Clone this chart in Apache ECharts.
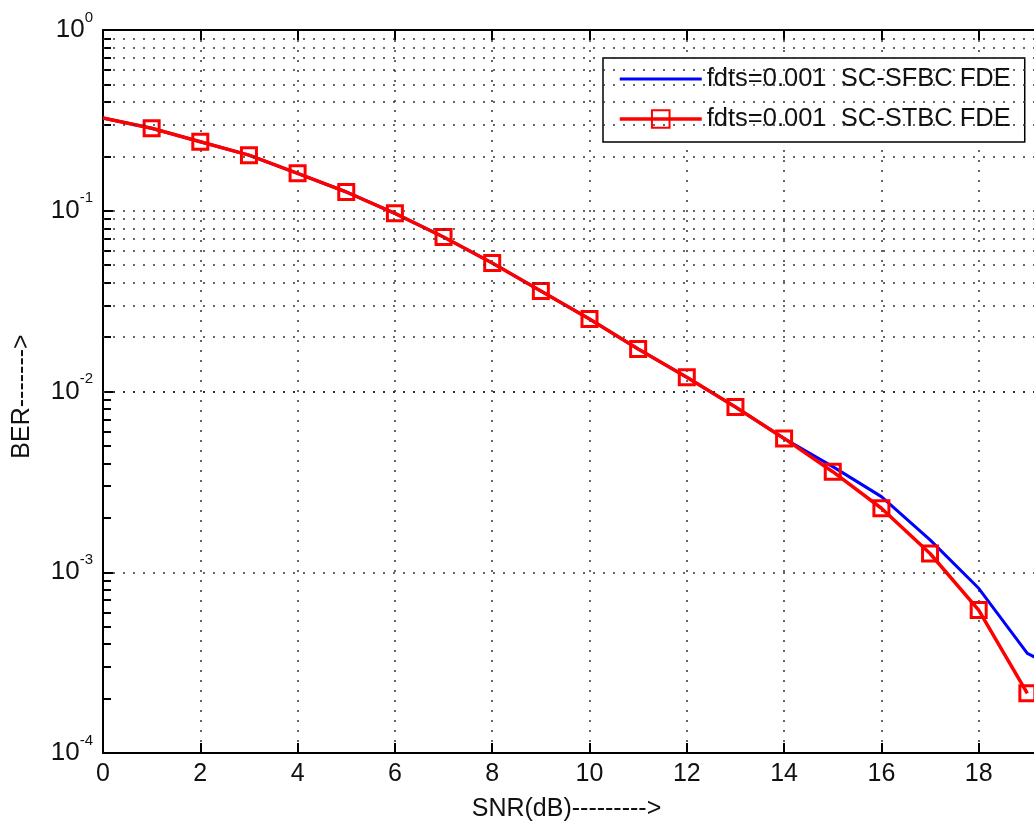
<!DOCTYPE html>
<html>
<head>
<meta charset="utf-8">
<script src="https://cdn.jsdelivr.net/npm/echarts@6/dist/echarts.min.js"></script>
<style>
html,body{margin:0;padding:0;background:#fff;}
#chart{width:1034px;height:827px;}
</style>
</head>
<body>
<div id="chart"></div>
<script>
// ---- data ----
const snr = [0,1,2,3,4,5,6,7,8,9,10,11,12,13,14,15,16,17,18,19,20];
const berSFBC = [0.326,0.286,0.241,0.203,0.161,0.127,0.0968,0.0716,0.0514,0.036,0.0252,0.0172,0.0120,0.0082,0.0055,0.00384,0.00262,0.00151,0.000815,0.000356,0.00026];
const berSTBC = [0.326,0.286,0.241,0.203,0.161,0.127,0.0968,0.0716,0.0514,0.036,0.0252,0.0172,0.0120,0.0082,0.0055,0.0036,0.00226,0.00127,0.000618,0.000214];
const seriesNames = ['fdts=0.001  SC-SFBC FDE','fdts=0.001  SC-STBC FDE'];
const xTicks = [0,2,4,6,8,10,12,14,16,18];
const yDecades = [-4,-3,-2,-1,0];
const minorMultipliers = [2,3,4,5,6,7,8,9];

const FONT = 'Liberation Sans, Arial, sans-serif';
const dotted = {type:[2,8], width:1.5, color:'#333'};

const minorVals = [];
yDecades.slice(0,-1).forEach(k => minorMultipliers.forEach(m => minorVals.push(m*Math.pow(10,k))));

const chart = echarts.init(document.getElementById('chart'));
chart.setOption({
  backgroundColor:'#fff',
  animation:false,
  textStyle:{fontFamily:FONT, color:'#000'},
  grid:{left:103, top:30, width:973, height:723, containLabel:false, outerBoundsMode:'none'},
  legend:{
    orient:'vertical', left:603, top:58,
    padding:[8,14,10,15],
    backgroundColor:'#fff', borderColor:'#000', borderWidth:1.5, borderRadius:0,
    itemWidth:82, itemHeight:22, itemGap:14,
    textStyle:{fontFamily:FONT, fontSize:25.5, color:'#111'},
    data:[
      {name:seriesNames[0], itemStyle:{opacity:0}, lineStyle:{width:3}},
      {name:seriesNames[1], lineStyle:{width:3.5}}
    ]
  },
  xAxis:[{
    type:'value', min:0, max:20, interval:2, position:'bottom',
    axisLine:{show:true, onZero:false, lineStyle:{color:'#000', width:2}},
    axisTick:{show:true, inside:true, length:10, lineStyle:{color:'#000', width:2}},
    axisLabel:{fontSize:25, margin:9, color:'#111', fontFamily:FONT,
      customValues:xTicks},
    splitLine:{show:true, lineStyle:dotted},
    name:'SNR(dB)--------->', nameLocation:'middle', nameGap:44,
    nameTextStyle:{fontSize:25, color:'#111', fontFamily:FONT, padding:[0,46,0,0]}
  },{
    type:'value', min:0, max:20, interval:2, position:'top',
    axisLine:{show:true, onZero:false, lineStyle:{color:'#000', width:2}},
    axisTick:{show:true, inside:true, length:10, lineStyle:{color:'#000', width:2}},
    axisLabel:{show:false}, splitLine:{show:false}
  }],
  yAxis:[{
    type:'log', logBase:10, min:1e-4, max:1, position:'left',
    axisLine:{show:true, onZero:false, lineStyle:{color:'#000', width:2}},
    axisTick:{show:true, inside:true, length:10, lineStyle:{color:'#000', width:2}},
    axisLabel:{margin:10, color:'#111', fontFamily:FONT,
      formatter:v => '{b|10}{s|' + Math.round(Math.log10(v)) + '}',
      rich:{
        b:{fontSize:26, lineHeight:40, verticalAlign:'middle', fontFamily:FONT, color:'#111'},
        s:{fontSize:15, lineHeight:15, verticalAlign:'top', fontFamily:FONT, color:'#111'}
      }},
    splitLine:{show:true, lineStyle:dotted},
    name:'BER------->', nameLocation:'middle', nameGap:68, nameRotate:90,
    nameTextStyle:{fontSize:25, color:'#111', fontFamily:FONT, padding:[0,10,0,0]}
  },{
    type:'value', min:-4, max:0, position:'left',
    axisLine:{show:false},
    axisTick:{show:true, inside:true, length:8, lineStyle:{color:'#000', width:2},
      customValues:minorVals.map(v => Math.log10(v))},
    axisLabel:{show:false}, splitLine:{show:false}
  }],
  series:[{
    name:seriesNames[0], type:'line', xAxisIndex:0, yAxisIndex:0,
    data:snr.slice(0, berSFBC.length).map((x,i) => [x, berSFBC[i]]),
    symbol:'none', showSymbol:false,
    lineStyle:{color:'#0000ff', width:3},
    itemStyle:{color:'#0000ff'},
    markLine:{
      silent:true, symbol:['none','none'], label:{show:false},
      lineStyle:dotted, animation:false,
      data:minorVals.map(v => ({yAxis:v}))
    },
    z:2
  },{
    name:seriesNames[1], type:'line', xAxisIndex:0, yAxisIndex:0,
    data:snr.slice(0, berSTBC.length).map((x,i) => i === 0 ? {value:[x, berSTBC[i]], symbol:'none'} : [x, berSTBC[i]]),
    symbol:'rect', symbolSize:15, showSymbol:true,
    lineStyle:{color:'#ff0000', width:3.5},
    itemStyle:{color:'rgba(0,0,0,0)', borderColor:'#ff0000', borderWidth:3},
    z:3
  }]
});
</script>
</body>
</html>
